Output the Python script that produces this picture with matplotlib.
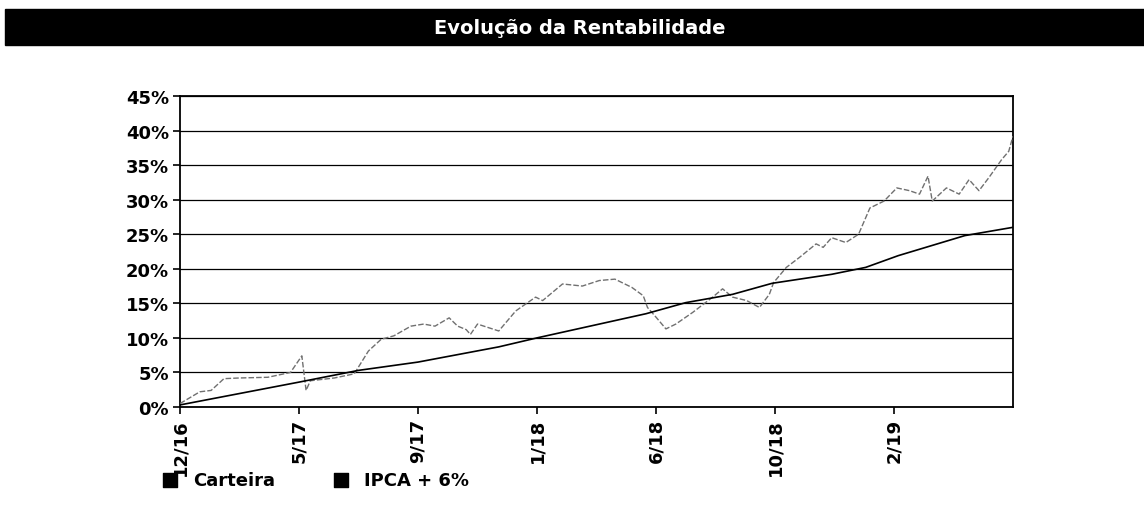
import numpy as np
import matplotlib
matplotlib.use("Agg")
import matplotlib.pyplot as plt
from matplotlib.patches import Rectangle

# x axis is trading-day index; one tick every 84 sessions
tick_labels = ["12/16", "5/17", "9/17", "1/18", "6/18", "10/18", "2/19"]
tick_step = 84

carteira_days = [0, 14, 22, 31, 42, 62, 78, 86, 89, 92, 109, 123, 133, 142,
                 151, 163, 172, 180, 190, 196, 202, 205, 210, 225, 237, 251,
                 256, 270, 284, 296, 307, 319, 327, 330, 336, 343, 350, 362,
                 376, 383, 390, 400, 409, 416, 419, 428, 437, 449, 454, 460,
                 470, 479, 487, 497, 506, 515, 522, 528, 531, 541, 550, 557,
                 560, 564, 571, 580, 585, 588]
carteira_vals = [0.5, 2.2, 2.4, 4.1, 4.2, 4.3, 5.0, 7.4, 2.4, 3.8, 4.2, 4.8,
                 8.1, 9.8, 10.3, 11.7, 12.0, 11.7, 12.9, 11.7, 11.2, 10.5,
                 12.0, 11.0, 13.9, 15.9, 15.4, 17.8, 17.5, 18.3, 18.5, 17.3,
                 16.1, 14.4, 13.0, 11.3, 12.0, 13.7, 15.9, 17.1, 15.9, 15.4,
                 14.4, 16.3, 18.0, 20.2, 21.6, 23.6, 23.1, 24.5, 23.8, 25.0,
                 28.8, 29.8, 31.7, 31.3, 30.8, 33.4, 29.8, 31.7, 30.8, 32.9,
                 32.2, 31.3, 33.2, 35.8, 37.0, 39.2]

ipca_days = [0, 84, 126, 168, 225, 252, 329, 357, 390, 418, 460, 484, 507, 554, 588]
ipca_vals = [0.3, 3.6, 5.3, 6.5, 8.7, 10.0, 13.5, 15.1, 16.3, 17.9, 19.2,
             20.2, 21.9, 24.8, 26.0]

y_ticks = [0, 5, 10, 15, 20, 25, 30, 35, 40, 45]

fig = plt.figure(figsize=(11.44, 5.06), dpi=100)

# black title band
fig.patches.append(Rectangle((5 / 1144, 1 - 46 / 506), 1 - 5 / 1144, 36 / 506,
                             transform=fig.transFigure, color="black", zorder=0))
fig.text(0.507, 1 - 28 / 506, "Evolução da Rentabilidade", color="white",
         fontsize=14, fontweight="bold", ha="center", va="center")

ax = fig.add_axes([180 / 1144, 1 - 408 / 506, 833 / 1144, 311 / 506])
ax.plot(carteira_days, carteira_vals, color="#707070", lw=1.0,
        linestyle=(0, (4, 1.5)), zorder=3)
ax.plot(ipca_days, ipca_vals, color="black", lw=1.2, zorder=3)

ax.set_xlim(0, tick_step * 7)
ax.set_ylim(0, 45)
ax.set_yticks(y_ticks)
ax.set_yticklabels([f"{v}%" for v in y_ticks], fontsize=13, fontweight="bold")
ax.set_xticks([i * tick_step for i in range(len(tick_labels))])
ax.set_xticklabels(tick_labels, rotation=90, fontsize=13, fontweight="bold")
ax.tick_params(axis="both", length=5, width=1.2, color="black", pad=3)
ax.grid(axis="y", color="black", lw=0.9)
ax.set_axisbelow(True)
for s in ax.spines.values():
    s.set_linewidth(1.3)
    s.set_color("black")

# legend
h1 = ax.scatter([], [], marker="s", s=110, color="black")
h2 = ax.scatter([], [], marker="s", s=110, color="black")
fig.legend([h1, h2], ["Carteira", "IPCA + 6%"], loc="center left",
           bbox_to_anchor=(152 / 1144, 1 - 481 / 506), ncol=2, frameon=False,
           prop={"size": 13, "weight": "bold"}, handletextpad=0.3,
           columnspacing=2.6, borderaxespad=0, borderpad=0)

fig.savefig("out.png", dpi=100)
